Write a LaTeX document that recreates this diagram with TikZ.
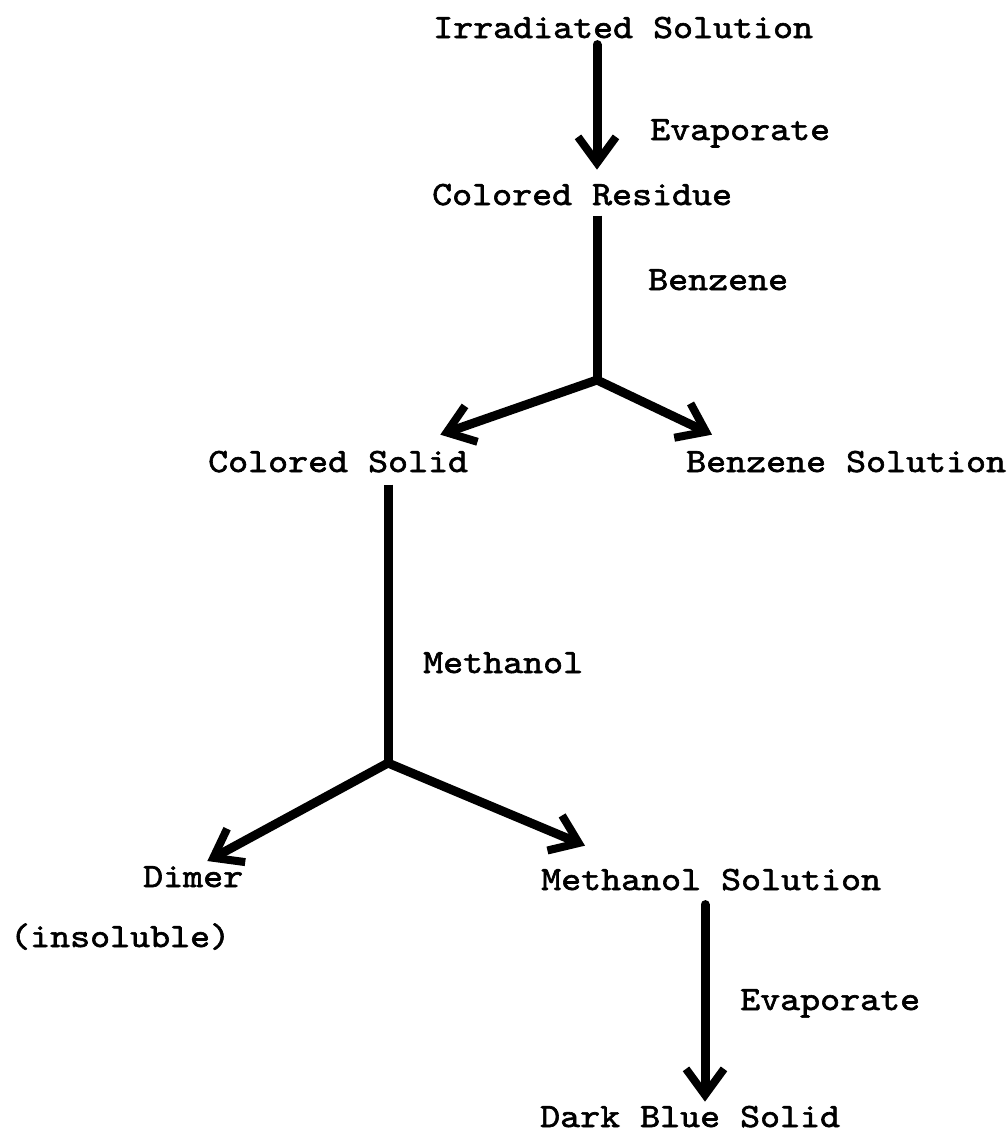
\documentclass[tikz,border=0pt]{standalone}
\usepackage{fontspec}
\newfontfamily\typew[Extension=.otf,FakeStretch=1.12,FakeBold=1.8]{lmmono10-regular}
\usetikzlibrary{arrows.meta}

\begin{document}
\begin{tikzpicture}[x=1pt,y=-1pt,
  lbl/.style={anchor=base west,inner sep=0pt,font=\typew\fontsize{34}{36}\selectfont},
  arr/.style={-{Straight Barb[length=26pt,width=38pt,line width=8pt]},line width=9pt,line cap=round,line join=round},
  stem/.style={line width=9pt,line cap=butt}]
\useasboundingbox (0,0) rectangle (1008,1141);
\node[lbl] (irr) at (433,38) {Irradiated Solution};
\node[lbl] (ev1) at (650,140) {Evaporate};
\node[lbl] (res) at (432,205) {Colored Residue};
\node[lbl] (ben) at (648,290) {Benzene};
\node[lbl] (csol) at (208,472) {Colored Solid};
\node[lbl] (bsol) at (686,472) {Benzene Solution};
\node[lbl] (meth) at (423,673) {Methanol};
\node[lbl] (dim) at (143,887) {Dimer};
\node[lbl] (msol) at (541,890) {Methanol Solution};
\node[lbl] (ins) at (10,947) {(insoluble)};
\node[lbl] (ev2) at (740,1010) {Evaporate};
\node[lbl] (dbs) at (540,1127) {Dark Blue Solid};
\coordinate (b1) at (597,380);
\coordinate (b2) at (388,763);
\coordinate (c4) at (705,0);
\draw[arr] ([yshift=-6pt]b1 |- irr.south) -- ([yshift=14pt]b1 |- res.north);
\draw[stem] ([yshift=-10pt]b1 |- res.south) -- (b1);
\draw[arr] (b1) -- ([xshift=-28pt,yshift=16pt]csol.north east);
\draw[arr] (b1) -- ([xshift=26pt,yshift=16pt]bsol.north west);
\draw[stem] ([yshift=-12pt]b2 |- csol.south) -- (b2);
\draw[arr] (b2) -- ([xshift=-36pt,yshift=5pt]dim.north east);
\draw[arr] (b2) -- ([xshift=44pt,yshift=23pt]msol.north west);
\draw[arr] ([yshift=-14pt]c4 |- msol.south) -- ([yshift=4pt]c4 |- dbs.north);
\end{tikzpicture}
\end{document}
